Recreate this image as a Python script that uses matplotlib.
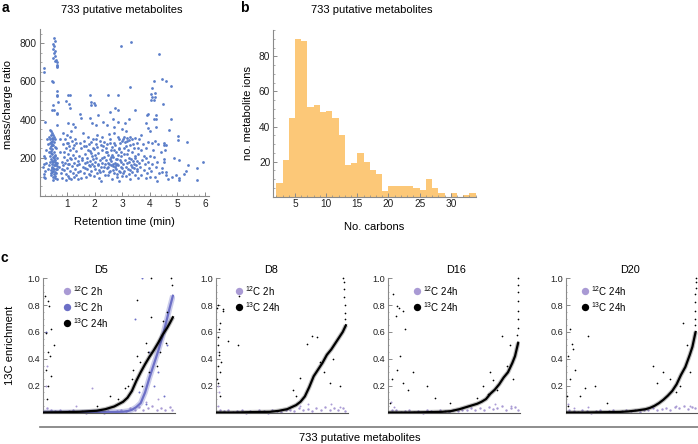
import numpy as np
import matplotlib.pyplot as plt
from matplotlib.ticker import MultipleLocator

plt.rcParams['font.family'] = ['Liberation Sans', 'DejaVu Sans']
plt.rcParams['mathtext.fontset'] = 'custom'
plt.rcParams['mathtext.rm'] = 'Liberation Sans'

# ---------------- panel a: retention time (min) vs m/z ----------------
pts_left = [(0.16, 669), (0.17, 651), (0.21, 389), (0.15, 210), (0.20, 200), (0.18, 165),
            (0.13, 150), (0.20, 130), (0.15, 115), (0.17, 100), (0.20, 95), (0.22, 175),
            (0.25, 240), (0.28, 300), (0.30, 140), (0.32, 270)]
pts_column_high = [(0.52, 828), (0.55, 814), (0.50, 796), (0.53, 788), (0.48, 770), (0.55, 761),
                   (0.52, 747), (0.57, 735), (0.50, 721), (0.60, 714), (0.55, 709), (0.62, 704),
                   (0.62, 686), (0.63, 679), (0.62, 674), (0.45, 600), (0.49, 595), (0.49, 476),
                   (0.46, 450), (0.51, 450), (0.65, 550), (0.64, 530), (0.62, 523), (0.67, 494),
                   (0.64, 427), (0.64, 436), (0.65, 374)]
pts_column_low = [(0.38, 345), (0.42, 338), (0.45, 330), (0.40, 322), (0.48, 318), (0.36, 310),
                  (0.44, 305), (0.50, 300), (0.39, 296), (0.46, 290), (0.42, 285), (0.52, 282),
                  (0.37, 276), (0.45, 272), (0.49, 266), (0.41, 260), (0.55, 256), (0.38, 250),
                  (0.47, 245), (0.43, 238), (0.51, 232), (0.40, 226), (0.46, 220), (0.56, 214),
                  (0.39, 208), (0.48, 203), (0.53, 198), (0.42, 192), (0.58, 188), (0.45, 184),
                  (0.50, 180), (0.55, 176), (0.60, 172), (0.47, 168), (0.52, 164), (0.57, 160),
                  (0.62, 156), (0.44, 152), (0.49, 148), (0.54, 144), (0.59, 140), (0.41, 136),
                  (0.50, 132), (0.56, 128), (0.46, 124), (0.61, 120), (0.52, 115), (0.43, 110),
                  (0.58, 105), (0.48, 100), (0.55, 95), (0.64, 90), (0.50, 86), (0.38, 180),
                  (0.36, 160), (0.40, 120), (0.62, 200), (0.60, 250), (0.58, 300), (0.64, 175),
                  (0.63, 140), (0.57, 210), (0.35, 230), (0.44, 265), (0.53, 310), (0.47, 145),
                  (0.54, 190), (0.59, 165)]
pts_bulk_1 = [(0.72, 150), (0.75, 230), (0.78, 120), (0.80, 180), (0.82, 95), (0.85, 270),
              (0.86, 160), (0.88, 205), (0.90, 135), (0.92, 300), (0.93, 175), (0.95, 115),
              (0.96, 250), (0.98, 190), (1.00, 320), (1.00, 145), (1.02, 280), (1.03, 220),
              (1.05, 105), (1.06, 260), (1.08, 170), (1.10, 310), (1.10, 130), (1.12, 240),
              (1.14, 195), (1.15, 90), (1.17, 290), (1.18, 155), (1.20, 215), (1.22, 120),
              (1.24, 265), (1.25, 175), (1.27, 140), (1.29, 300), (1.30, 200), (1.32, 110),
              (1.34, 235), (1.36, 160), (1.38, 185), (1.40, 125), (0.76, 300), (0.84, 330),
              (0.95, 85), (1.08, 95), (1.16, 340), (1.26, 100), (0.90, 230), (1.04, 165),
              (1.20, 250), (1.33, 275), (0.80, 140), (1.12, 200), (1.38, 90), (0.98, 275)]
pts_bulk_2 = [(1.42, 210), (1.45, 170), (1.47, 130), (1.50, 250), (1.52, 95), (1.55, 190),
              (1.57, 150), (1.60, 290), (1.62, 120), (1.64, 220), (1.66, 175), (1.68, 100),
              (1.70, 260), (1.72, 140), (1.74, 200), (1.76, 310), (1.78, 160), (1.80, 115),
              (1.82, 235), (1.84, 185), (1.86, 285), (1.88, 130), (1.90, 210), (1.92, 165),
              (1.94, 300), (1.96, 105), (1.98, 245), (2.00, 180), (2.02, 140), (2.04, 270),
              (2.06, 200), (2.08, 120), (2.10, 320), (2.12, 160), (2.14, 225), (2.16, 95),
              (2.18, 190), (2.20, 290), (2.22, 150), (2.24, 80), (2.26, 240), (2.28, 175),
              (2.30, 130), (2.32, 260), (2.34, 205), (2.36, 110), (2.38, 170), (2.40, 230),
              (1.48, 280), (1.58, 330), (1.65, 145), (1.75, 240), (1.85, 155), (1.95, 195),
              (2.05, 300), (2.15, 135), (2.25, 200), (2.35, 285), (1.53, 200), (1.63, 260),
              (1.73, 180), (1.83, 110), (1.93, 250), (2.03, 215), (2.13, 170), (2.23, 265),
              (2.33, 150), (1.78, 270), (1.88, 225), (1.98, 155), (2.08, 255), (2.18, 125),
              (2.28, 310)]
pts_bulk_3 = [(2.42, 190), (2.44, 145), (2.46, 270), (2.48, 110), (2.50, 215), (2.52, 165),
              (2.54, 300), (2.56, 130), (2.58, 240), (2.60, 185), (2.62, 90), (2.64, 255),
              (2.66, 155), (2.68, 205), (2.70, 120), (2.72, 280), (2.74, 175), (2.76, 140),
              (2.78, 230), (2.80, 100), (2.82, 195), (2.84, 310), (2.86, 160), (2.88, 80),
              (2.90, 250), (2.92, 125), (2.94, 210), (2.96, 180), (2.98, 290), (3.00, 145),
              (2.45, 230), (2.55, 195), (2.65, 135), (2.75, 265), (2.85, 215), (2.95, 150),
              (2.47, 175), (2.57, 280), (2.67, 170), (2.77, 195), (2.87, 130), (2.97, 230),
              (2.43, 250), (2.53, 125), (2.63, 215), (2.73, 150), (2.83, 170), (2.93, 275),
              (2.51, 325), (2.69, 330), (2.81, 115), (2.89, 300), (2.99, 105), (2.61, 160),
              (2.79, 160), (2.91, 190), (2.49, 150), (2.71, 240), (2.59, 205), (2.87, 245)]
pts_bulk_4 = [(3.02, 300), (3.04, 165), (3.06, 220), (3.08, 130), (3.10, 285), (3.12, 190),
              (3.14, 105), (3.16, 305), (3.18, 175), (3.20, 240), (3.22, 140), (3.24, 295),
              (3.26, 200), (3.28, 90), (3.30, 310), (3.32, 160), (3.34, 230), (3.36, 125),
              (3.38, 270), (3.40, 185), (3.42, 145), (3.44, 250), (3.46, 110), (3.48, 200),
              (3.50, 160), (3.52, 280), (3.54, 130), (3.56, 220), (3.58, 95), (3.60, 175),
              (3.05, 250), (3.15, 150), (3.25, 180), (3.35, 300), (3.45, 210), (3.55, 140),
              (3.07, 310), (3.17, 220), (3.27, 265), (3.37, 150), (3.47, 305), (3.57, 250),
              (3.03, 120), (3.13, 260), (3.23, 115), (3.33, 195), (3.43, 170), (3.53, 185),
              (3.19, 290), (3.29, 135)]
pts_bulk_5 = [(3.62, 300), (3.65, 150), (3.68, 240), (3.70, 110), (3.72, 190), (3.75, 270),
              (3.78, 135), (3.80, 210), (3.82, 165), (3.85, 95), (3.88, 250), (3.90, 120),
              (3.92, 180), (3.95, 285), (3.98, 145), (4.00, 210), (4.02, 340), (4.05, 130),
              (4.08, 280), (4.10, 170), (4.12, 240), (4.15, 205), (4.18, 100), (4.20, 290),
              (4.22, 150), (4.25, 80), (4.28, 180), (4.30, 270), (4.35, 120), (4.40, 230),
              (3.70, 320), (3.85, 200), (4.00, 100)]
pts_high = [(1.03, 529), (1.09, 529), (0.97, 500), (1.06, 482), (1.10, 461), (1.03, 380),
            (1.22, 378), (1.48, 427), (1.52, 410), (1.30, 363), (1.85, 530), (1.88, 494),
            (1.86, 476), (1.98, 485), (2.02, 479), (1.82, 410), (1.92, 380), (2.06, 374),
            (2.14, 424), (2.30, 390), (2.50, 529), (2.86, 529), (2.74, 462), (2.56, 441),
            (2.86, 450), (2.65, 403), (3.23, 403), (3.47, 450), (3.29, 572), (2.95, 786),
            (3.31, 808), (2.70, 360), (3.10, 380), (3.00, 350), (3.93, 354), (3.90, 424),
            (4.16, 600), (4.20, 537), (4.18, 519), (4.03, 536), (4.10, 563), (4.08, 519),
            (4.15, 501), (4.05, 501), (4.32, 742), (4.46, 613), (4.58, 604), (4.76, 578),
            (4.47, 482), (4.23, 424), (4.16, 403), (4.23, 403), (4.23, 362), (4.76, 403),
            (4.70, 345), (3.85, 380), (3.95, 430), (2.45, 370), (2.85, 390), (3.15, 340)]
pts_right = [(5.04, 316), (5.04, 294), (5.34, 282), (4.50, 275), (4.52, 265), (4.60, 265),
             (4.55, 240), (4.88, 200), (4.50, 180), (4.52, 195), (5.06, 186), (5.40, 160),
             (5.30, 131), (5.24, 113), (5.06, 92), (5.06, 84), (5.70, 146), (5.70, 84),
             (5.95, 178), (4.58, 127), (4.60, 110), (4.46, 127), (4.45, 145), (4.65, 90),
             (4.80, 100), (4.95, 110)]

# ---------------- panel b: number of carbons histogram ----------------
carbon_bins = list(range(2, 35))   # bin edges, width 1
carbon_counts = [8, 21, 45, 90, 89, 51, 52, 48, 49, 45, 35, 18, 19, 25, 20, 15,
                 13, 3, 6, 6, 6, 6, 5, 4, 10, 5, 2, 0, 2, 0, 1, 2]

# ---------------- panel c: 13C enrichment, metabolites sorted ----------------
ranks = [0, 100, 200, 300, 350, 400, 450, 475, 500, 525, 550, 575, 600, 625, 650, 675, 700, 715, 733]
d5_13c_2h = [0.0, 0.0, 0.0, 0.002, 0.003, 0.004, 0.006, 0.01, 0.02, 0.04, 0.07, 0.15, 0.26,
             0.36, 0.46, 0.57, 0.70, 0.78, 0.87]
d5_13c_24h = [0.0, 0.002, 0.005, 0.013, 0.025, 0.045, 0.08, 0.11, 0.16, 0.235, 0.30, 0.36,
              0.415, 0.465, 0.52, 0.58, 0.63, 0.665, 0.71]
d8_13c_24h = [0.0, 0.0, 0.003, 0.005, 0.012, 0.025, 0.055, 0.08, 0.12, 0.19, 0.27, 0.32,
              0.37, 0.43, 0.47, 0.52, 0.57, 0.60, 0.65]
d16_13c_24h = [0.0, 0.0, 0.002, 0.005, 0.01, 0.025, 0.045, 0.055, 0.065, 0.08, 0.10, 0.14,
               0.17, 0.21, 0.26, 0.30, 0.37, 0.42, 0.52]
d20_13c_24h = [0.0, 0.0, 0.002, 0.004, 0.008, 0.015, 0.025, 0.035, 0.05, 0.07, 0.095, 0.125,
               0.16, 0.21, 0.28, 0.34, 0.43, 0.49, 0.60]

ranks_12c = [15, 40, 65, 90, 115, 140, 165, 190, 215, 240, 265, 290, 315, 340, 365,
             390, 415, 440, 465, 490, 515, 540, 565, 590, 615, 640, 665, 690, 715, 730]
d5_12c = [0.03, 0.02, 0.01, 0.015, 0.005, 0.01, 0.02, 0.005, 0.01, 0.0, 0.01, 0.005, 0.015, 0.0,
          0.01, 0.005, 0.01, 0.02, 0.01, 0.03, 0.02, 0.04, 0.015, 0.03, 0.05, 0.02, 0.035, 0.015,
          0.04, 0.02]
d8_12c = [0.02, 0.01, 0.015, 0.005, 0.01, 0.02, 0.0, 0.01, 0.005, 0.015, 0.01, 0.0, 0.02, 0.01,
          0.005, 0.015, 0.02, 0.01, 0.03, 0.015, 0.025, 0.01, 0.03, 0.02, 0.04, 0.015, 0.03, 0.02,
          0.035, 0.01]
d16_12c = [0.015, 0.02, 0.005, 0.01, 0.02, 0.005, 0.01, 0.0, 0.015, 0.01, 0.005, 0.02, 0.01,
           0.005, 0.015, 0.01, 0.02, 0.015, 0.03, 0.02, 0.035, 0.015, 0.04, 0.025, 0.03, 0.045,
           0.02, 0.035, 0.04, 0.02]
d20_12c = [0.02, 0.01, 0.005, 0.015, 0.01, 0.0, 0.01, 0.02, 0.005, 0.01, 0.015, 0.005, 0.01,
           0.02, 0.01, 0.015, 0.005, 0.02, 0.015, 0.03, 0.02, 0.025, 0.035, 0.02, 0.04, 0.03,
           0.045, 0.025, 0.04, 0.03]

d5_out_24h = [(7, 0.87), (21, 0.83), (30, 0.79), (39, 0.62), (11, 0.59), (58, 0.50), (21, 0.45),
              (36, 0.42), (11, 0.32), (39, 0.27), (21, 0.20), (15, 0.10), (377, 0.12), (300, 0.05),
              (420, 0.10), (460, 0.18), (527, 0.84), (611, 1.0), (724, 1.0), (611, 0.71),
              (583, 0.52), (527, 0.42), (508, 0.32), (677, 0.68), (696, 0.52), (560, 0.20),
              (640, 0.35), (480, 0.20), (500, 0.25), (600, 0.30), (660, 0.45), (700, 0.75),
              (730, 0.95), (545, 0.38), (590, 0.45)]
d5_out_2h = [(555, 1.0), (520, 0.70), (600, 0.45), (650, 0.30), (700, 0.50), (540, 0.15),
             (10, 0.60), (625, 0.20), (580, 0.06), (680, 0.12)]
d5_out_12c = [(274, 0.18), (10, 0.20), (15, 0.35), (180, 0.05), (580, 0.08), (650, 0.10)]
d8_out_24h = [(5, 0.80), (3, 0.78), (10, 0.62), (8, 0.56), (4, 0.50), (12, 0.43), (6, 0.35),
              (15, 0.30), (3, 0.25), (9, 0.22), (18, 0.12), (14, 0.45), (20, 0.67), (25, 0.38),
              (37, 0.77), (33, 0.76), (65, 0.53), (122, 0.50), (128, 0.87), (538, 0.57),
              (567, 0.56), (510, 0.51), (472, 0.26), (585, 0.38), (642, 0.22), (699, 0.20),
              (434, 0.17), (452, 0.12), (718, 1.0), (720, 0.97), (722, 0.92), (724, 0.86),
              (726, 0.80), (728, 0.74), (730, 0.70), (610, 0.30), (660, 0.40)]
d8_out_12c = [(5, 0.20), (10, 0.15), (8, 0.05), (470, 0.05), (520, 0.06), (650, 0.06), (700, 0.04)]
d16_out_24h = [(23, 0.88), (43, 0.79), (58, 0.78), (80, 0.76), (39, 0.72), (90, 0.62), (61, 0.42),
               (43, 0.32), (80, 0.22), (109, 0.17), (137, 0.30), (213, 0.20), (260, 0.11),
               (346, 0.07), (497, 0.11), (535, 0.20), (573, 0.30), (639, 0.57), (686, 0.50),
               (668, 0.35), (705, 0.25), (611, 0.17), (14, 0.25), (5, 0.07), (733, 1.0),
               (733, 0.95), (733, 0.90), (733, 0.83), (732, 0.76), (731, 0.70), (730, 0.63),
               (728, 0.58), (560, 0.14), (590, 0.24)]
d16_out_12c = [(10, 0.08), (30, 0.04), (600, 0.06), (690, 0.05)]
d20_out_24h = [(19, 0.62), (29, 0.51), (38, 0.47), (10, 0.42), (123, 0.57), (48, 0.32), (19, 0.25),
               (105, 0.18), (161, 0.20), (76, 0.12), (228, 0.07), (493, 0.35), (550, 0.30),
               (663, 0.67), (682, 0.50), (644, 0.20), (512, 0.22), (588, 0.25), (1, 0.12),
               (10, 0.05), (733, 1.0), (733, 0.97), (733, 0.93), (732, 0.88), (732, 0.82),
               (731, 0.76), (730, 0.70), (729, 0.65), (620, 0.15), (700, 0.30)]
d20_out_12c = [(8, 0.06), (40, 0.03), (120, 0.04), (620, 0.05), (700, 0.05)]

C12 = '#a99ad4'
C13_2H = '#6c6fc6'
GREY = '#8a8a8a'

W, H = 698, 444
fig = plt.figure(figsize=(W / 100, H / 100), dpi=100)


def add_ax(left, top, right, bottom):
    # axes placed by pixel edges of the 698x444 canvas
    return fig.add_axes([left / W, 1 - bottom / H, (right - left) / W, (bottom - top) / H])


def style(ax, size=7):
    for s in ['top', 'right']:
        ax.spines[s].set_visible(False)
    for s in ['left', 'bottom']:
        ax.spines[s].set_color(GREY)
        ax.spines[s].set_linewidth(0.8)
    ax.tick_params(which='both', direction='in', color=GREY, labelsize=size,
                   labelcolor='#222222', pad=2)
    ax.tick_params(which='major', length=3, width=0.7)
    ax.tick_params(which='minor', length=1.6, width=0.5)


def xy(pairs):
    return [p[0] for p in pairs], [p[1] for p in pairs]


# ---- a
ax_a = add_ax(39.5, 29.3, 209, 196)
style(ax_a, size=7.3)
all_a = (pts_left + pts_column_high + pts_column_low + pts_bulk_1 + pts_bulk_2 +
         pts_bulk_3 + pts_bulk_4 + pts_bulk_5 + pts_high + pts_right)
rt, mz = xy(all_a)
ax_a.scatter(rt, mz, s=4.0, color='#5b7ec9', linewidths=0)
ax_a.set_xlim(0, 6.15)
ax_a.set_ylim(0, 873)
ax_a.set_xticks([1, 2, 3, 4, 5, 6])
ax_a.set_yticks([200, 400, 600, 800])
ax_a.xaxis.set_minor_locator(MultipleLocator(0.2))
ax_a.yaxis.set_minor_locator(MultipleLocator(50))
ax_a.set_xlabel('Retention time (min)', fontsize=8, labelpad=6)
ax_a.set_ylabel('mass/charge ratio', fontsize=8)
ax_a.yaxis.set_label_coords(-0.155, 0.55)
fig.text(122 / W, 1 - 10 / H, '733 putative metabolites', ha='center', va='center', fontsize=8)

# ---- b
ax_b = add_ax(273, 30, 476, 196.7)
style(ax_b, size=7.3)
ax_b.bar(carbon_bins[:-1], carbon_counts, width=1, align='edge', color='#fcc878', linewidth=0)
ax_b.set_xlim(1.47, 34.05)
ax_b.set_ylim(0, 95)
ax_b.set_xticks([5, 10, 15, 20, 25, 30])
ax_b.set_yticks([20, 40, 60, 80])
ax_b.xaxis.set_minor_locator(MultipleLocator(1))
ax_b.yaxis.set_minor_locator(MultipleLocator(5))
ax_b.set_xlabel('No. carbons', fontsize=8, labelpad=9)
ax_b.set_ylabel('no. metabolite ions', fontsize=8, labelpad=4)
fig.text(372 / W, 1 - 10 / H, '733 putative metabolites', ha='center', va='center', fontsize=8)

# ---- c
panels = [
    ('D5', 43.0, 0.44, d5_12c, d5_13c_2h, d5_13c_24h, d5_out_12c, d5_out_2h, d5_out_24h,
     ['$^{12}$C 2h', '$^{13}$C 2h', '$^{13}$C 24h'], 0.18),
    ('D8', 216.0, 0.417, d8_12c, None, d8_13c_24h, d8_out_12c, None, d8_out_24h,
     ['$^{12}$C 2h', '$^{13}$C 24h'], 0.174),
    ('D16', 388.3, 0.51, d16_12c, None, d16_13c_24h, d16_out_12c, None, d16_out_24h,
     ['$^{12}$C 24h', '$^{13}$C 24h'], 0.215),
    ('D20', 565.7, 0.49, d20_12c, None, d20_13c_24h, d20_out_12c, None, d20_out_24h,
     ['$^{12}$C 24h', '$^{13}$C 24h'], 0.146),
]
legend_rows = [0.905, 0.784, 0.665]

for (name, left, title_x, c12, c13_2h, c13_24h, out12, out2h, out24,
     labels, leg_x) in panels:
    ax = add_ax(left, 278.3, left + 132, 412.5)
    style(ax, size=6.6)
    ax.spines['bottom'].set_color('#555555')
    ax.tick_params(axis='x', which='both', bottom=False, labelbottom=False)
    ax.set_xlim(-5, 745)
    ax.set_ylim(0, 1.0)
    ax.set_yticks([0.2, 0.4, 0.6, 0.8, 1.0])
    ax.set_yticklabels(['0.2', '0.4', '0.6', '0.8', '1.0'])
    ax.yaxis.set_minor_locator(MultipleLocator(0.05))
    ax.tick_params(axis='y', which='minor', length=1.0)

    ax.scatter(ranks_12c, c12, s=3, color=C12, linewidths=0, clip_on=False, zorder=2)
    ox, oy = xy(out12)
    ax.scatter(ox, oy, s=2, color=C12, linewidths=0, zorder=2)
    if c13_2h is not None:
        ax.plot(ranks, c13_2h, color=C13_2H, lw=4, alpha=0.35, solid_capstyle='butt', zorder=3)
        ax.plot(ranks, c13_2h, color=C13_2H, lw=1.6, zorder=3)
        ox, oy = xy(out2h)
        ax.scatter(ox, oy, s=2, color=C13_2H, linewidths=0, zorder=3)
    ax.plot(ranks, c13_24h, color='black', lw=3.2, alpha=0.25, solid_capstyle='butt', zorder=4)
    ax.plot(ranks, c13_24h, color='black', lw=1.6, zorder=4)
    ox, oy = xy(out24)
    ax.scatter(ox, oy, s=1.5, color='black', linewidths=0, zorder=4, clip_on=False)

    ax.text(title_x, 1.062, name, transform=ax.transAxes, ha='center', va='center', fontsize=7.8)

    colors = [C12, C13_2H, 'black'] if len(labels) == 3 else [C12, 'black']
    for row, lab, col in zip(legend_rows, labels, colors):
        ax.scatter([leg_x], [row], s=28, color=col, linewidths=0, transform=ax.transAxes,
                   clip_on=False, zorder=6)
        ax.text(leg_x + 0.045, row, lab, transform=ax.transAxes, ha='left', va='center',
                fontsize=7, zorder=6)
    if name == 'D5':
        ax.set_ylabel('13C enrichment', fontsize=8)
        ax.yaxis.set_label_coords(-0.215, 0.5)

# shared x-axis line of panel c
ax_line = add_ax(40, 420, 698, 426.7)
ax_line.set_facecolor('none')
for s in ['top', 'right', 'left']:
    ax_line.spines[s].set_visible(False)
ax_line.spines['bottom'].set_color('#7a7a7a')
ax_line.spines['bottom'].set_linewidth(1.2)
ax_line.set_xticks([])
ax_line.set_yticks([])
ax_line.set_xlabel('733 putative metabolites', fontsize=8, labelpad=4)
ax_line.xaxis.set_label_coords((360 - 40) / 658, -1.0)

# panel letters
fig.text(5 / W, 1 - 8 / H, 'a', fontsize=10, fontweight='bold', ha='center', va='center')
fig.text(244 / W, 1 - 8 / H, 'b', fontsize=10, fontweight='bold', ha='center', va='center')
fig.text(4 / W, 1 - 258 / H, 'c', fontsize=10, fontweight='bold', ha='center', va='center')

fig.savefig('out.png', dpi=100)
